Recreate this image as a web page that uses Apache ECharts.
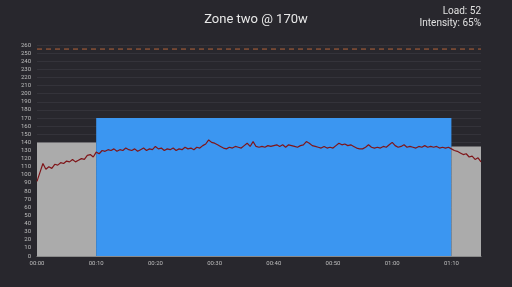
<!DOCTYPE html>
<html>
<head>
<meta charset="utf-8">
<script src="https://cdn.jsdelivr.net/npm/echarts@6/dist/echarts.min.js"></script>
<style>
html,body{margin:0;padding:0;background:#28272d;}
#c{width:512px;height:287px;}
</style>
</head>
<body>
<div id="c"></div>
<script>
// ---- data ----
var title = "Zone two @ 170w";
var loadText = "Load: 52";
var intensityText = "Intensity: 65%";
var maxHeartRate = 255;
var totalMinutes = 75;
var sampleStepMinutes = 0.5;

// zone blocks: start minute, end minute, target height
var zoneStart = [0, 10, 70];
var zoneEnd = [10, 70, 75];
var zoneHeight = [140, 170, 135];
var zoneType = ["rest", "work", "rest"];

// heart rate samples every 30 s from 00:00 to 01:15
var heartRate = [
 92,103,114,107,110,108,113,112,115,114,
 117,116,119,116,118,120,119,124,125,122,
 128,126,130,129,131,130,132,129,131,130,
 133,131,130,132,129,131,133,130,132,131,
 135,132,133,130,132,131,133,130,132,131,
 134,132,133,131,134,133,136,138,143,140,
 139,137,135,133,132,134,133,135,134,133,
 136,139,135,141,135,134,135,134,136,135,
 136,137,135,137,134,137,136,135,134,136,
 137,141,139,136,135,134,133,135,133,134,
 133,136,139,137,138,136,137,135,133,132,
 132,134,137,134,133,134,133,135,134,137,
 140,136,134,135,137,134,135,134,133,135,
 134,136,134,135,134,135,133,134,133,134,
 132,130,129,127,125,126,122,123,119,121,
 116
];

// ---- styles ----
var zoneColors = { rest: "#ababab", work: "#3b96f1" };

var hrData = heartRate.map(function (v, i) { return [i * sampleStepMinutes, v]; });
var zoneData = zoneStart.map(function (s, i) { return [s, zoneEnd[i], zoneHeight[i], zoneType[i]]; });
var maxHrData = [[0, maxHeartRate], [totalMinutes, maxHeartRate]];

function fmt(m) {
  var h = Math.floor(m / 60), mm = m % 60;
  return (h < 10 ? "0" : "") + h + ":" + (mm < 10 ? "0" : "") + mm;
}

var chart = echarts.init(document.getElementById("c"), null, { renderer: "canvas" });
chart.setOption({
  backgroundColor: "#28272d",
  animation: false,
  title: [
    { text: title, left: "center", top: 8,
      textStyle: { color: "#e8e8e8", fontSize: 13, fontWeight: "normal", fontFamily: "Roboto" } }
  ],
  graphic: [
    { type: "text", right: 31, top: 6,
      style: { text: loadText, fill: "#e0e0e0", font: "10px Roboto", textAlign: "right" } },
    { type: "text", right: 31, top: 18,
      style: { text: intensityText, fill: "#e0e0e0", font: "10px Roboto", textAlign: "right" } }
  ],
  grid: { left: 37, right: 31, top: 45, bottom: 31 },
  xAxis: {
    type: "value", min: 0, max: totalMinutes, interval: 10,
    axisLine: { show: true, lineStyle: { color: "#8a8a8a", width: 1 } },
    axisTick: { show: false },
    splitLine: { show: false },
    axisLabel: { color: "#bdbdbd", fontSize: 6, fontFamily: "Roboto", margin: 4, formatter: function (v) { return v === totalMinutes ? "" : fmt(v); } }
  },
  yAxis: {
    type: "value", min: 0, max: 260, interval: 10,
    axisLine: { show: false },
    axisTick: { show: false },
    splitLine: { show: true, lineStyle: { color: "#34333a", width: 1 } },
    axisLabel: { color: "#bdbdbd", fontSize: 6, fontFamily: "Roboto", margin: 6 }
  },
  series: [
    {
      type: "custom",
      data: zoneData,
      z: 1,
      renderItem: function (params, api) {
        var p0 = api.coord([api.value(0), api.value(2)]);
        var p1 = api.coord([api.value(1), 0]);
        return {
          type: "rect",
          shape: { x: p0[0], y: p0[1], width: p1[0] - p0[0], height: p1[1] - p0[1] },
          style: { fill: zoneColors[zoneType[params.dataIndex]] }
        };
      },
      encode: { x: [0, 1], y: 2 }
    },
    {
      type: "line",
      data: maxHrData,
      z: 2,
      symbol: "none",
      silent: true,
      lineStyle: { color: "#b5653a", type: [5, 4], width: 1 }
    },
    {
      type: "line",
      data: hrData,
      z: 3,
      symbol: "none",
      lineStyle: { color: "#7f161a", width: 1.2 }
    }
  ]
});
</script>
</body>
</html>
